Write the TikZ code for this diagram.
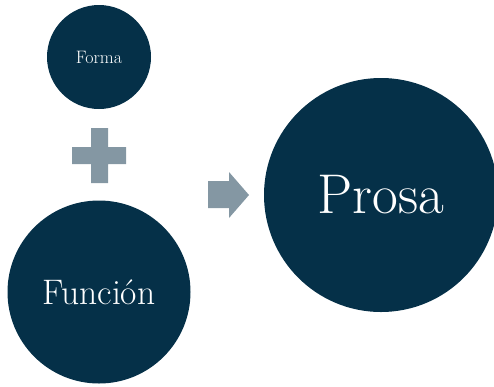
\documentclass[tikz,border=0pt]{standalone}
\usepackage{fontspec}
\definecolor{navy}{RGB}{5,48,72}
\definecolor{slate}{RGB}{132,151,163}
\begin{document}
\begin{tikzpicture}[x=1pt,y=-1pt,
  disc/.style={circle,fill=navy,text=white,inner sep=0pt,minimum size=#1},
  shapefill/.style={fill=slate,draw=none}]
\useasboundingbox (0,0) rectangle (494,386);
\begin{scope}
\clip (0,0) rectangle (494,386);
\node[disc=104pt] (forma) at (99,57) {\fontsize{18}{20}\selectfont Forma};
\node[disc=183pt] (funcion) at (99,292) {\fontsize{35.5}{40}\selectfont Función};
\node[disc=234pt] (prosa) at (381,195) {\fontsize{56}{62}\selectfont Prosa};
\end{scope}
% plus sign
\path[shapefill] (91,128) -- (108,128) -- (108,147) -- (126,147) -- (126,164) -- (108,164) -- (108,183) -- (91,183) -- (91,164) -- (72,164) -- (72,147) -- (91,147) -- cycle;
% arrow
\path[shapefill] (208,181) -- (229,181) -- (229,172) -- (249,195) -- (229,218) -- (229,208) -- (208,208) -- cycle;
\end{tikzpicture}
\end{document}
